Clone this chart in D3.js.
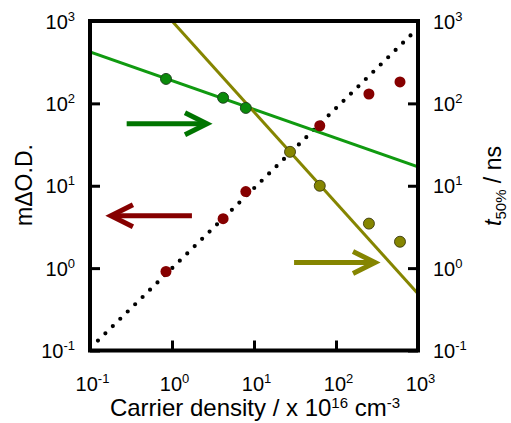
<!DOCTYPE html>
<html lang="en">
<head>
<meta charset="UTF-8" />
<title>Carrier density</title>
<script src="https://cdn.jsdelivr.net/npm/d3@7"></script>
<style>
  body { margin: 0; padding: 0; background: #fff; }
  svg { display: block; font-family: "Liberation Sans", Arial, sans-serif; }
</style>
</head>
<body>
<svg id="chart" width="511" height="423"></svg>
<script>
// carrier density / x 10^16 cm^-3
const densityGreen = [0.845, 4.2, 7.95];
const t50Green = [198, 117, 88];
const densityOlive = [27.5, 63.4, 252, 603];
const t50Olive = [25.8, 10, 3.47, 2.09];
const densityRed = [0.845, 4.2, 7.95, 63.4, 252, 603];
const odRed = [0.91, 3.98, 8.5, 53.5, 130, 182];

// fitted lines, two end points each
const fitGreen = [[0.1, 421], [1000, 17]];
const fitOlive = [[1, 1000], [1000, 0.49]];
const fitDotted = [[0.125, 0.132], [895, 736]];

// arrows showing which axis a series belongs to: [xFrom, xTo, y]
const arrowGreen = [0.28, 2.67, 56.5];
const arrowRed = [1.75, 0.18, 4.33];
const arrowOlive = [30.8, 299, 1.17];

const tickValues = [0.1, 1, 10, 100, 1000];

const colGreen = "#0a8a0a";
const colOlive = "#858500";
const colRed = "#860000";

const svg = d3.select("#chart");
const plotL = 90, plotR = 418, plotT = 21, plotB = 350.5;

const x = d3.scaleLog().domain([0.1, 1000]).range([plotL, plotR]);
const y = d3.scaleLog().domain([0.1, 1000]).range([plotB, plotT]);

svg.append("defs").append("clipPath").attr("id", "plot")
  .append("rect")
  .attr("x", plotL).attr("y", plotT)
  .attr("width", plotR - plotL).attr("height", plotB - plotT);

// axes, ticks pointing inwards
function styleAxis(g, anchor, tx, ty) {
  g.select(".domain").remove();
  g.selectAll(".tick line").attr("stroke", "#000").attr("stroke-width", 3);
  g.selectAll(".tick text").each(function (d) {
    const t = d3.select(this);
    t.text("10")
      .attr("x", tx).attr("y", ty).attr("dy", null)
      .attr("text-anchor", anchor)
      .attr("font-size", 20).attr("fill", "#000");
    t.append("tspan")
      .attr("font-size", 13)
      .attr("dy", -8)
      .text(String(Math.round(Math.log10(d))));
  });
}

svg.append("g")
  .attr("transform", `translate(0,${plotB})`)
  .call(d3.axisBottom(x).tickValues(tickValues).tickSize(-10).tickSizeOuter(0))
  .call(g => styleAxis(g, "middle", 2, 40));

svg.append("g")
  .attr("transform", `translate(${plotL},0)`)
  .call(d3.axisLeft(y).tickValues(tickValues).tickSize(-10).tickSizeOuter(0))
  .call(g => styleAxis(g, "end", -15, 7));

svg.append("g")
  .attr("transform", `translate(${plotR},0)`)
  .call(d3.axisRight(y).tickValues(tickValues).tickSize(-10).tickSizeOuter(0))
  .call(g => styleAxis(g, "start", 15, 7));

const plot = svg.append("g").attr("clip-path", "url(#plot)");
const line = d3.line().x(d => x(d[0])).y(d => y(d[1]));

plot.append("path").attr("d", line(fitDotted))
  .attr("fill", "none").attr("stroke", "#000")
  .attr("stroke-width", 4.2).attr("stroke-linecap", "round")
  .attr("stroke-dasharray", "0 10.4");

plot.append("path").attr("d", line(fitGreen))
  .attr("fill", "none").attr("stroke", "#109a10").attr("stroke-width", 3);

plot.append("path").attr("d", line(fitOlive))
  .attr("fill", "none").attr("stroke", colOlive).attr("stroke-width", 3);

function dots(xs, ys, fill, stroke) {
  plot.append("g").selectAll("circle")
    .data(xs.map((v, i) => [v, ys[i]]))
    .join("circle")
    .attr("cx", d => x(d[0])).attr("cy", d => y(d[1]))
    .attr("r", 5.5)
    .attr("fill", fill)
    .attr("stroke", stroke || "none")
    .attr("stroke-width", 0.9);
}
dots(densityRed, odRed, colRed);
dots(densityGreen, t50Green, colGreen, "#1b3a1b");
dots(densityOlive, t50Olive, colOlive, "#3a3a10");

function arrow(a, colour) {
  const x0 = x(a[0]), x1 = x(a[1]), yy = y(a[2]);
  const dir = x1 > x0 ? 1 : -1;
  const g = svg.append("g").attr("fill", "none").attr("stroke", colour).attr("stroke-width", 5);
  g.append("line").attr("x1", x0).attr("x2", x1 - dir * 2).attr("y1", yy).attr("y2", yy);
  g.append("path")
    .attr("stroke-linejoin", "miter")
    .attr("d", `M${x1 - dir * 22},${yy - 11}L${x1},${yy}L${x1 - dir * 22},${yy + 11}`);
}
arrow(arrowGreen, "#007500");
arrow(arrowRed, colRed);
arrow(arrowOlive, colOlive);

// frame
svg.append("rect")
  .attr("x", plotL).attr("y", plotT)
  .attr("width", plotR - plotL).attr("height", plotB - plotT)
  .attr("fill", "none").attr("stroke", "#000").attr("stroke-width", 4);

// axis titles
svg.append("text")
  .attr("transform", "translate(32,185) rotate(-90)")
  .attr("text-anchor", "middle").attr("font-size", 23)
  .text("mΔO.D.");

const rt = svg.append("text")
  .attr("transform", "translate(501,186) rotate(-90)")
  .attr("text-anchor", "middle").attr("font-size", 23);
rt.append("tspan").attr("font-style", "italic").text("t");
rt.append("tspan").attr("font-size", 15).attr("dy", 5).text("50%");
rt.append("tspan").attr("dy", -5).text(" / ns");

const bt = svg.append("text")
  .attr("x", 255).attr("y", 416)
  .attr("text-anchor", "middle").attr("font-size", 24);
bt.append("tspan").text("Carrier density / x 10");
bt.append("tspan").attr("font-size", 15).attr("dy", -8).text("16");
bt.append("tspan").attr("dy", 8).text(" cm");
bt.append("tspan").attr("font-size", 15).attr("dy", -8).text("-3");
</script>
</body>
</html>
